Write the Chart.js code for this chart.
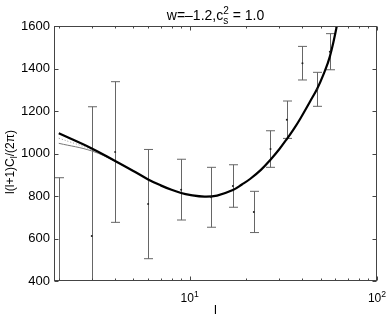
<!DOCTYPE html>
<html>
<head>
<meta charset="utf-8">
<script src="https://cdn.jsdelivr.net/npm/chart.js@4"></script>
<style>
  html, body { margin: 0; padding: 0; background: #fff; }
  #wrap { width: 390px; height: 316px; }
</style>
</head>
<body>
<div id="wrap"><canvas id="cl" width="390" height="316"></canvas></div>
<script>
// ---- data ----
const ell     = [2, 3, 4, 6, 9, 13, 17, 22, 27, 33, 40, 48, 56];
const clMean  = [350, 612, 1007, 762, 830, 794, 847, 725, 1021, 1159, 1425, 1302, 1479];
const clErr   = [536, 608, 331, 257, 143, 141, 100, 97, 86, 88, 79, 80, 85];

// best-fit model (thick) and the two low-l variants (thin / dotted)
const modelL     = [2, 3, 4, 5, 6, 7, 8, 9, 10, 12, 14, 17, 19, 21, 24, 27, 30, 33, 36, 39, 44, 48, 52, 56, 61, 66];
const modelThick = [1095, 1024, 965, 918, 878, 850, 829, 814, 805, 797, 802, 828, 854, 880, 923, 971, 1019, 1068, 1116, 1165, 1246, 1306, 1376, 1456, 1600, 1780];
const altL       = [2, 3, 4, 5];
const altThin    = [1048, 1012, 963, 918];
const altDotted  = [1072, 1018, 964, 918];

const yTicks = [400, 600, 800, 1000, 1200, 1400, 1600];
const xMajor = [10, 100];
const xMinor = [2, 3, 4, 5, 6, 7, 8, 9, 20, 30, 40, 50, 60, 70, 80, 90];

const FONT = '"Liberation Sans", Arial, Helvetica, sans-serif';
const pts = (xs, ys) => xs.map((x, i) => ({ x: x, y: ys[i] }));

// ---- rich text helper (sub/superscripts) ----
function richWidth(ctx, parts, size) {
    let w = 0;
    parts.forEach(p => {
        if (p.sup !== undefined || p.sub !== undefined) {
            ctx.font = `${size * 0.72}px ${FONT}`;
            w += Math.max(p.sup ? ctx.measureText(p.sup).width : 0, p.sub ? ctx.measureText(p.sub).width : 0);
        } else {
            ctx.font = `${size}px ${FONT}`;
            w += ctx.measureText(p.t).width;
        }
    });
    return w;
}

function drawRich(ctx, parts, cx, baseline, size) {
    let x = cx - richWidth(ctx, parts, size) / 2;
    ctx.textAlign = 'left';
    ctx.textBaseline = 'alphabetic';
    parts.forEach(p => {
        if (p.sup !== undefined || p.sub !== undefined) {
            ctx.font = `${size * 0.72}px ${FONT}`;
            let w = 0;
            if (p.sup) { ctx.fillText(p.sup, x, baseline - size * 0.45); w = ctx.measureText(p.sup).width; }
            if (p.sub) { ctx.fillText(p.sub, x, baseline + size * 0.28); w = Math.max(w, ctx.measureText(p.sub).width); }
            x += w;
        } else {
            ctx.font = `${size}px ${FONT}`;
            ctx.fillText(p.t, x, baseline);
            x += ctx.measureText(p.t).width;
        }
    });
}

// ---- error bars, axes box, ticks and labels ----
const matlabAxes = {
    id: 'matlabAxes',
    beforeDatasetsDraw(chart) {
        const { ctx, chartArea: a, scales: { x, y } } = chart;
        ctx.save();
        ctx.beginPath();
        ctx.rect(a.left, a.top, a.right - a.left, a.bottom - a.top);
        ctx.clip();
        ctx.strokeStyle = '#666';
        ctx.lineWidth = 1;
        ell.forEach((l, i) => {
            const px = Math.round(x.getPixelForValue(l)) + 0.5;
            const yt = y.getPixelForValue(clMean[i] + clErr[i]);
            const yb = y.getPixelForValue(clMean[i] - clErr[i]);
            ctx.beginPath();
            ctx.moveTo(px, yt); ctx.lineTo(px, yb);
            ctx.moveTo(px - 4.5, yt); ctx.lineTo(px + 4.5, yt);
            ctx.moveTo(px - 4.5, yb); ctx.lineTo(px + 4.5, yb);
            ctx.stroke();
        });
        ctx.restore();
    },
    afterDraw(chart) {
        const { ctx, chartArea: a, scales: { x, y } } = chart;
        ctx.save();
        ctx.strokeStyle = '#444';
        ctx.lineWidth = 1;
        const L = a.left + 0.5, R = a.right - 0.5, T = a.top + 0.5, B = a.bottom - 0.5;
        ctx.strokeRect(L, T, R - L, B - T);

        ctx.beginPath();
        // y ticks, inward on both sides
        yTicks.forEach(v => {
            const py = Math.round(y.getPixelForValue(v)) + 0.5;
            ctx.moveTo(L, py); ctx.lineTo(L + 4, py);
            ctx.moveTo(R, py); ctx.lineTo(R - 4, py);
        });
        // x ticks, inward on bottom and top
        xMajor.forEach(v => {
            const px = Math.round(x.getPixelForValue(v)) + 0.5;
            ctx.moveTo(px, B); ctx.lineTo(px, B - 4);
            ctx.moveTo(px, T); ctx.lineTo(px, T + 4);
        });
        xMinor.forEach(v => {
            const px = Math.round(x.getPixelForValue(v)) + 0.5;
            ctx.moveTo(px, B); ctx.lineTo(px, B - 2);
            ctx.moveTo(px, T); ctx.lineTo(px, T + 2);
        });
        ctx.stroke();

        ctx.fillStyle = '#000';
        // y tick labels
        ctx.font = `13px ${FONT}`;
        ctx.textAlign = 'right';
        ctx.textBaseline = 'middle';
        yTicks.forEach(v => ctx.fillText(String(v), a.left - 4, y.getPixelForValue(v)));

        // x tick labels 10^1, 10^2
        xMajor.forEach(v => {
            const e = Math.round(Math.log10(v));
            drawRich(ctx, [{ t: '10' }, { sup: String(e) }], x.getPixelForValue(v), a.bottom + 21, 12);
        });

        // axis labels and title
        drawRich(ctx, [{ t: 'l' }], (a.left + a.right) / 2, a.bottom + 33, 13);
        drawRich(ctx, [{ t: 'w=\u20131.2,c' }, { sup: '2', sub: 's' }, { t: ' = 1.0' }], (a.left + a.right) / 2, 20, 14);

        ctx.translate(14, 162);
        ctx.rotate(-Math.PI / 2);
        drawRich(ctx, [{ t: 'l(l+1)C' }, { sub: 'l' }, { t: '/(2\u03c0)' }], 0, 0, 12);
        ctx.restore();
    }
};

new Chart(document.getElementById('cl'), {
    type: 'line',
    data: {
        datasets: [
            {
                label: 'model', data: pts(modelL, modelThick),
                borderColor: '#000', borderWidth: 2.2, pointRadius: 0,
                tension: 0.4, order: 1
            },
            {
                label: 'thin', data: pts(altL, altThin),
                borderColor: '#777', borderWidth: 1, pointRadius: 0,
                tension: 0.4, order: 2
            },
            {
                label: 'dotted', data: pts(altL, altDotted),
                borderColor: '#999', borderWidth: 1, borderDash: [1, 2], pointRadius: 0,
                tension: 0.4, order: 3
            },
            {
                type: 'scatter', label: 'data', data: pts(ell, clMean),
                pointRadius: 1, pointBackgroundColor: '#222', pointBorderWidth: 0, order: 0
            }
        ]
    },
    options: {
        responsive: false,
        animation: false,
        devicePixelRatio: 1,
        layout: { padding: { left: 54, right: 13, top: 26, bottom: 35 } },
        plugins: { legend: { display: false }, tooltip: { enabled: false } },
        scales: {
            x: { type: 'logarithmic', min: 1.886, max: 100, display: false },
            y: { type: 'linear', min: 400, max: 1600, display: false }
        }
    },
    plugins: [matlabAxes]
});
</script>
</body>
</html>
